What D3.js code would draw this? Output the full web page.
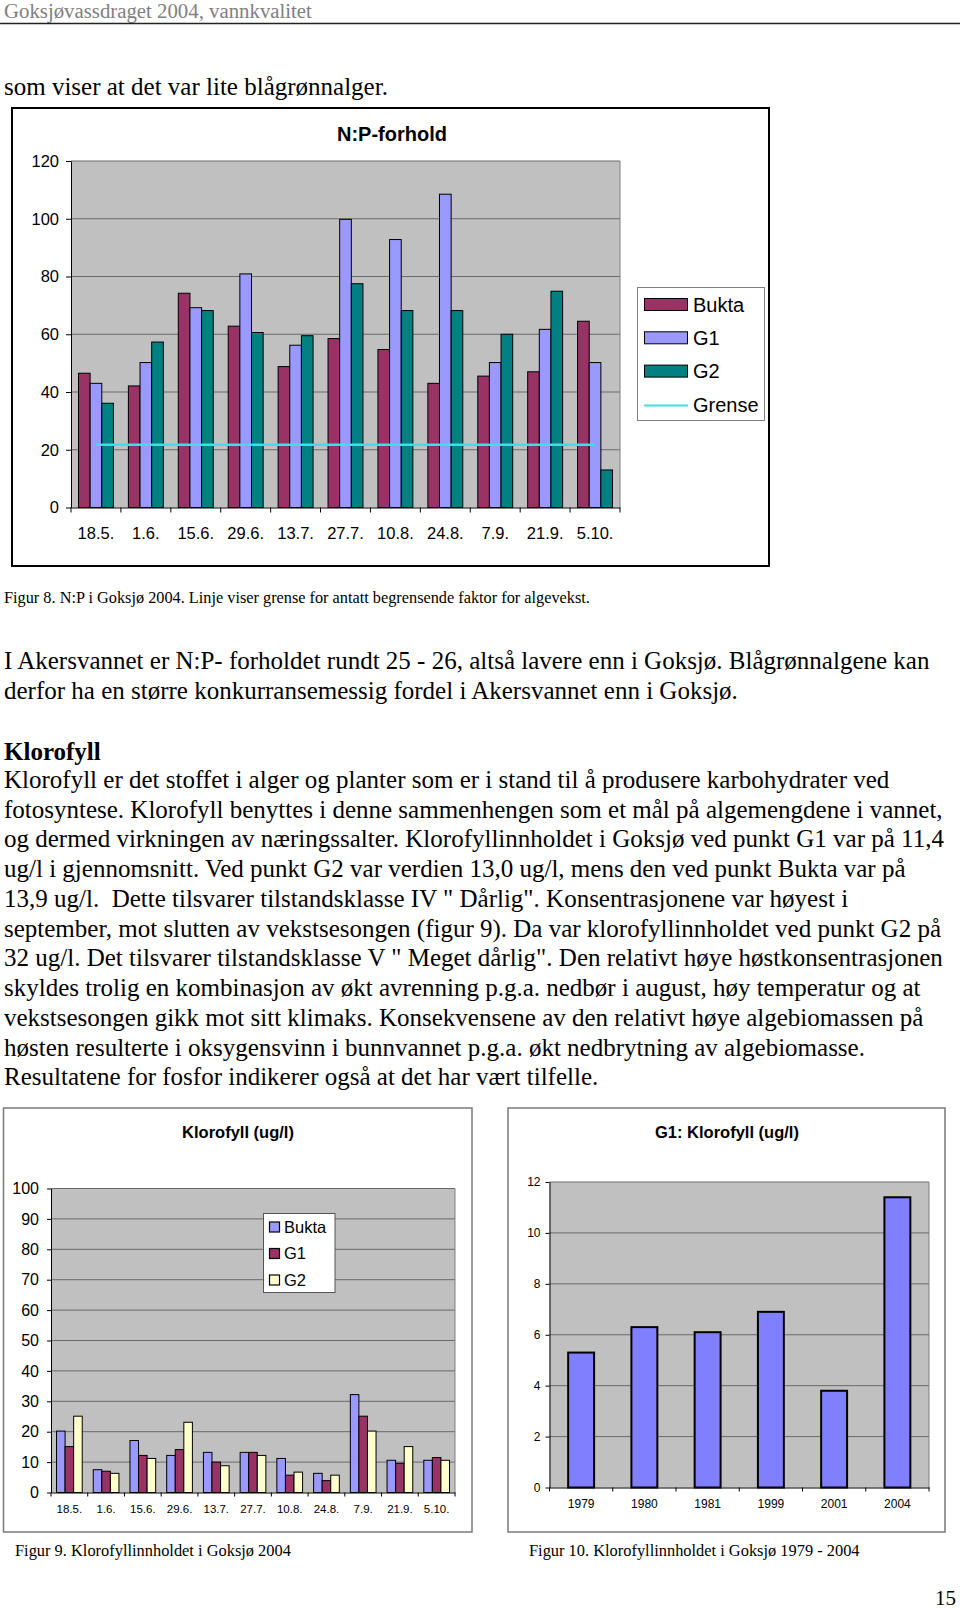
<!DOCTYPE html>
<html><head><meta charset="utf-8">
<script src="https://cdn.jsdelivr.net/npm/d3@7"></script>
<style>
html,body{margin:0;padding:0;background:#fff;}
svg{display:block;}
</style></head><body>
<svg id="page" width="960" height="1609"></svg>
<script>
// ---------- DATA ----------
const npDates = ["18.5.","1.6.","15.6.","29.6.","13.7.","27.7.","10.8.","24.8.","7.9.","21.9.","5.10."];
const npBukta = [46.5,42.1,74.2,62.8,48.8,58.5,54.7,43.0,45.5,47.0,64.5];
const npG1    = [43.0,50.2,69.2,80.9,56.2,99.8,92.8,108.5,50.2,61.7,50.2];
const npG2    = [36.1,57.3,68.2,60.6,59.5,77.5,68.2,68.2,60.0,74.9,13.0];
const npGrense= [21.7,21.7,21.7,21.7,21.7,21.7,21.7,21.7,21.7,21.7,21.7];
const npTicks = [0,20,40,60,80,100,120];

const klDates = ["18.5.","1.6.","15.6.","29.6.","13.7.","27.7.","10.8.","24.8.","7.9.","21.9.","5.10."];
const klBukta = [20.2,7.5,17.1,12.2,13.2,13.2,11.2,6.3,32.2,10.6,10.6];
const klG1    = [15.1,7.0,12.2,14.1,10.0,13.2,5.7,3.9,25.1,9.6,11.5];
const klG2    = [25.1,6.3,11.2,23.1,8.8,12.2,6.7,5.7,20.2,15.1,10.6];
const klTicks = [0,10,20,30,40,50,60,70,80,90,100];

const g1Years  = ["1979","1980","1981","1999","2001","2004"];
const g1Values = [5.3,6.3,6.1,6.9,3.8,11.4];
const g1Ticks  = [0,2,4,6,8,10,12];

const headerText = "Goksjøvassdraget 2004, vannkvalitet";
const introLine = "som viser at det var lite blågrønnalger.";
const fig8Caption = "Figur 8. N:P i Goksjø 2004. Linje viser grense for antatt begrensende faktor for algevekst.";
const para1 = [
 "I Akersvannet er N:P- forholdet rundt 25 - 26, altså lavere enn i Goksjø. Blågrønnalgene kan",
 "derfor ha en større konkurransemessig fordel i Akersvannet enn i Goksjø."
];
const heading = "Klorofyll";
const para2 = [
 "Klorofyll er det stoffet i alger og planter som er i stand til å produsere karbohydrater ved",
 "fotosyntese. Klorofyll benyttes i denne sammenhengen som et mål på algemengdene i vannet,",
 "og dermed virkningen av næringssalter. Klorofyllinnholdet i Goksjø ved punkt G1 var på 11,4",
 "ug/l i gjennomsnitt. Ved punkt G2 var verdien 13,0 ug/l, mens den ved punkt Bukta var på",
 "13,9 ug/l.  Dette tilsvarer tilstandsklasse IV \" Dårlig\". Konsentrasjonene var høyest i",
 "september, mot slutten av vekstsesongen (figur 9). Da var klorofyllinnholdet ved punkt G2 på",
 "32 ug/l. Det tilsvarer tilstandsklasse V \" Meget dårlig\". Den relativt høye høstkonsentrasjonen",
 "skyldes trolig en kombinasjon av økt avrenning p.g.a. nedbør i august, høy temperatur og at",
 "vekstsesongen gikk mot sitt klimaks. Konsekvensene av den relativt høye algebiomassen på",
 "høsten resulterte i oksygensvinn i bunnvannet p.g.a. økt nedbrytning av algebiomasse.",
 "Resultatene for fosfor indikerer også at det har vært tilfelle."
];
const fig9Caption = "Figur 9. Klorofyllinnholdet i Goksjø 2004";
const fig10Caption = "Figur 10. Klorofyllinnholdet i Goksjø 1979 - 2004";
const pageNumber = "15";

// ---------- DRAWING ----------
const SERIF = '"Liberation Serif","Times New Roman",serif';
const SANS = '"Liberation Sans",Arial,sans-serif';
const svg = d3.select("#page");
svg.append("rect").attr("width",960).attr("height",1609).attr("fill","#fff");

function stext(x, y, str, size, opts = {}) {
  return svg.append("text").attr("x", x).attr("y", y)
    .attr("font-family", opts.family || SERIF).attr("font-size", size)
    .attr("font-weight", opts.weight || "normal")
    .attr("fill", opts.fill || "#000")
    .attr("text-anchor", opts.anchor || "start")
    .style("white-space", "pre").text(str);
}

// header
stext(4, 18, headerText, 20.8, {fill: "#808080"});
svg.append("line").attr("x1",0).attr("x2",960).attr("y1",23.5).attr("y2",23.5)
  .attr("stroke","#222").attr("stroke-width",1.4);

stext(4, 94.5, introLine, 25);
stext(4, 602.5, fig8Caption, 16.3);
para1.forEach((l,i) => stext(4, 669 + i*29.73, l, 25));
stext(4, 759.5, heading, 25, {weight: "bold"});
para2.forEach((l,i) => stext(4, 788 + i*29.73, l, 25));
stext(15, 1555.5, fig9Caption, 16.4);
stext(529, 1555.5, fig10Caption, 16.4);
stext(956, 1605, pageNumber, 21, {anchor: "end"});

function barChart(cfg) {
  const g = svg.append("g");
  const [bx0, by0, bx1, by1] = cfg.box;
  g.append("rect").attr("x", bx0).attr("y", by0).attr("width", bx1 - bx0).attr("height", by1 - by0)
    .attr("fill", "#fff").attr("stroke", cfg.boxStroke).attr("stroke-width", cfg.boxWidth);
  const [px0, py0, px1, py1] = cfg.plot;
  const x = d3.scaleBand().domain(cfg.categories).range([px0, px1]).paddingInner(0).paddingOuter(0);
  const y = d3.scaleLinear().domain([0, cfg.max]).range([py1, py0]);
  const bw = x.bandwidth();
  const gw = bw * cfg.groupFrac;
  const xs = d3.scaleBand().domain(cfg.series.map(s => s.name)).range([(bw - gw) / 2, (bw + gw) / 2]);

  g.append("rect").attr("x", px0).attr("y", py0).attr("width", px1 - px0).attr("height", py1 - py0)
    .attr("fill", "#c0c0c0");
  g.selectAll(null).data(cfg.ticks.filter(t => t > 0)).join("line")
    .attr("x1", px0).attr("x2", px1).attr("y1", d => y(d)).attr("y2", d => y(d))
    .attr("stroke", cfg.gridColor).attr("stroke-width", 1);
  g.append("line").attr("x1", px1).attr("x2", px1).attr("y1", py0).attr("y2", py1)
    .attr("stroke", "#808080").attr("stroke-width", 1);

  cfg.series.forEach(s => {
    g.selectAll(null).data(cfg.categories.map((c, i) => ({c, v: s.values[i]}))).join("rect")
      .attr("x", d => x(d.c) + xs(s.name)).attr("y", d => y(d.v))
      .attr("width", xs.bandwidth()).attr("height", d => y(0) - y(d.v))
      .attr("fill", s.color).attr("stroke", "#000").attr("stroke-width", cfg.barStroke);
  });

  if (cfg.line) {
    const ln = d3.line().x((d, i) => x(cfg.categories[i]) + bw / 2).y(d => y(d));
    g.append("path").datum(cfg.line.values).attr("d", ln).attr("fill", "none")
      .attr("stroke", cfg.line.color).attr("stroke-width", cfg.line.width);
  }

  const yg = g.append("g").attr("transform", `translate(${px0},0)`)
    .call(d3.axisLeft(y).tickValues(cfg.ticks).tickSize(cfg.tickLen).tickSizeOuter(0).tickPadding(cfg.yPad));
  yg.attr("font-family", SANS).attr("font-size", cfg.yFont);
  yg.selectAll("text").attr("fill", "#000");

  const xg = g.append("g").attr("transform", `translate(0,${py1})`)
    .call(d3.axisBottom(x).tickSize(0).tickSizeOuter(0).tickPadding(0));
  xg.attr("font-family", SANS).attr("font-size", cfg.xFont);
  xg.selectAll("text").attr("y", cfg.xLabelOff).attr("dy", "0.36em").attr("fill", "#000");
  const bounds = cfg.categories.map(c => x(c)).concat([px1]);
  g.selectAll(null).data(bounds).join("line")
    .attr("x1", d => d).attr("x2", d => d).attr("y1", py1).attr("y2", py1 + cfg.tickLen)
    .attr("stroke", "#000");

  g.append("text").attr("x", cfg.title.x).attr("y", cfg.title.y).attr("text-anchor", "middle")
    .attr("font-family", SANS).attr("font-weight", "bold").attr("font-size", cfg.title.size)
    .text(cfg.title.text);
  return g;
}

// Chart 1: N:P-forhold
barChart({
  box: [12, 108, 769, 566], boxStroke: "#000", boxWidth: 2,
  plot: [71, 161, 620, 507.5], max: 120, ticks: npTicks, categories: npDates,
  groupFrac: 0.70, gridColor: "#6a6a6a", barStroke: 1,
  series: [
    {name: "Bukta", values: npBukta, color: "#993366"},
    {name: "G1", values: npG1, color: "#9999ff"},
    {name: "G2", values: npG2, color: "#008080"}
  ],
  line: {values: npGrense, color: "#3ee0e6", width: 2.5},
  tickLen: 5, yPad: 7, yFont: 16.5, xFont: 16.5, xLabelOff: 25.5,
  title: {text: "N:P-forhold", x: 392, y: 140.5, size: 20}
});
{
  const lg = svg.append("g");
  lg.append("rect").attr("x", 637.5).attr("y", 287.5).attr("width", 127).attr("height", 133)
    .attr("fill", "#fff").attr("stroke", "#808080").attr("stroke-width", 1);
  const items = [
    {name: "Bukta", color: "#993366"}, {name: "G1", color: "#9999ff"},
    {name: "G2", color: "#008080"}, {name: "Grense", color: "#3ee0e6", line: true}
  ];
  items.forEach((it, i) => {
    const cy = 304.5 + i * 33.3;
    if (it.line) {
      lg.append("line").attr("x1", 644).attr("x2", 688).attr("y1", cy + 1).attr("y2", cy + 1)
        .attr("stroke", it.color).attr("stroke-width", 2);
    } else {
      lg.append("rect").attr("x", 644.5).attr("y", cy - 6).attr("width", 43).attr("height", 12)
        .attr("fill", it.color).attr("stroke", "#000").attr("stroke-width", 1);
    }
    lg.append("text").attr("x", 693).attr("y", cy).attr("dy", "0.36em")
      .attr("font-family", SANS).attr("font-size", 20).text(it.name);
  });
}

// Chart 2: Klorofyll (ug/l)
barChart({
  box: [3.5, 1108, 472, 1532], boxStroke: "#7a7a7a", boxWidth: 1.5,
  plot: [51, 1188.5, 455, 1492.5], max: 100, ticks: klTicks, categories: klDates,
  groupFrac: 0.70, gridColor: "#6a6a6a", barStroke: 1,
  series: [
    {name: "Bukta", values: klBukta, color: "#9999ff"},
    {name: "G1", values: klG1, color: "#993366"},
    {name: "G2", values: klG2, color: "#ffffcc"}
  ],
  tickLen: 4, yPad: 8, yFont: 16, xFont: 11.5, xLabelOff: 16.5,
  title: {text: "Klorofyll (ug/l)", x: 238, y: 1137.5, size: 16.5}
});
{
  const lg = svg.append("g");
  lg.append("rect").attr("x", 263.5).attr("y", 1213.5).attr("width", 71.5).attr("height", 79)
    .attr("fill", "#fff").attr("stroke", "#555").attr("stroke-width", 1);
  const items = [
    {name: "Bukta", color: "#9999ff"}, {name: "G1", color: "#993366"}, {name: "G2", color: "#ffffcc"}
  ];
  items.forEach((it, i) => {
    const cy = 1227 + i * 26.5;
    lg.append("rect").attr("x", 269.5).attr("y", cy - 5).attr("width", 10).attr("height", 10)
      .attr("fill", it.color).attr("stroke", "#000").attr("stroke-width", 1.2);
    lg.append("text").attr("x", 284).attr("y", cy).attr("dy", "0.36em")
      .attr("font-family", SANS).attr("font-size", 16.5).text(it.name);
  });
}

// Chart 3: G1: Klorofyll (ug/l)
barChart({
  box: [508, 1108, 945, 1532], boxStroke: "#7a7a7a", boxWidth: 1.5,
  plot: [549.5, 1182, 929, 1487.5], max: 12, ticks: g1Ticks, categories: g1Years,
  groupFrac: 0.41, gridColor: "#6a6a6a", barStroke: 2,
  series: [{name: "G1", values: g1Values, color: "#8080ff"}],
  tickLen: 4, yPad: 5, yFont: 12, xFont: 12, xLabelOff: 16.5,
  title: {text: "G1: Klorofyll (ug/l)", x: 727, y: 1137.5, size: 16.5}
});
</script>
</body></html>
